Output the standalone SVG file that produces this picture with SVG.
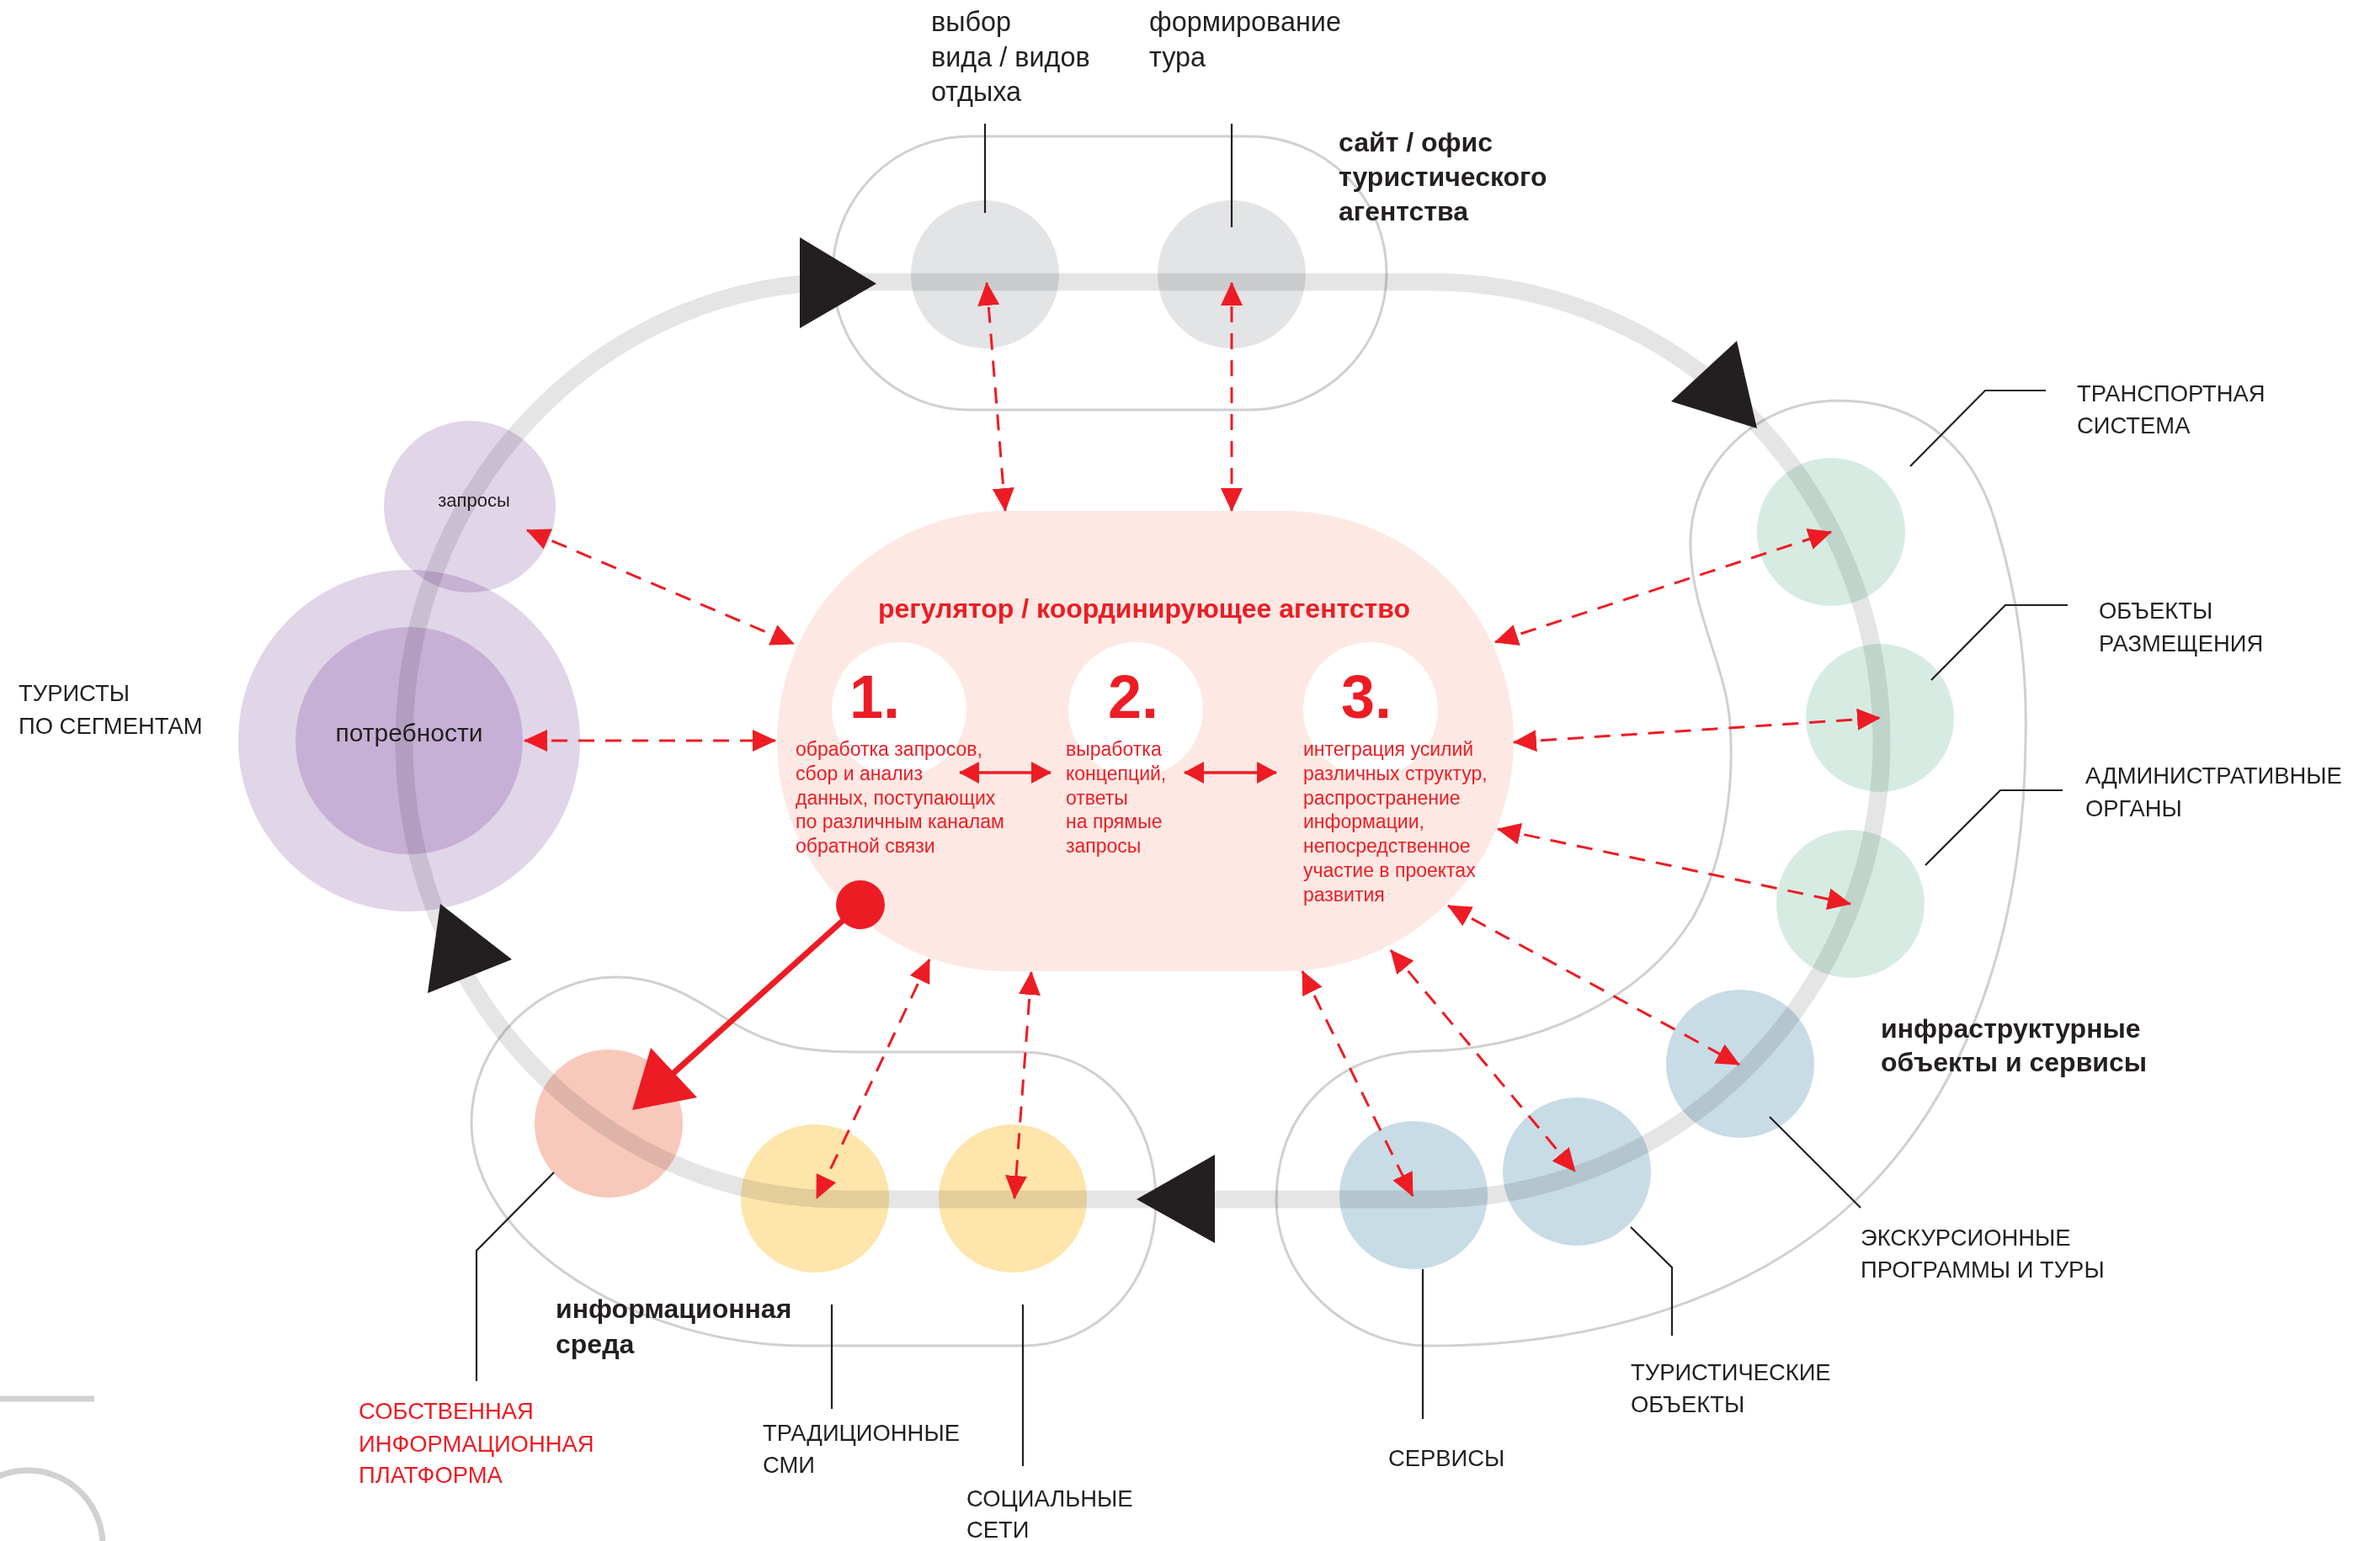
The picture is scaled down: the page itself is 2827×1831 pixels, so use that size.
<svg xmlns="http://www.w3.org/2000/svg" width="2827" height="1831" viewBox="0 0 2827 1831">
<defs>
<style>
text{font-family:"Liberation Sans",Arial,sans-serif;fill:#231f20}
.lbl{font-size:27.4px}
.sm{font-size:32.4px}
.b{font-size:32px;font-weight:bold}
.ttl{font-size:32px;font-weight:bold;fill:#ed1c24}
.red{fill:#ed1c24}
.body{font-size:23px;fill:#ed1c24}
.num{font-size:72px;font-weight:bold;fill:#ed1c24}
.outline{fill:none;stroke:#d0d0d0;stroke-width:3}
.lead{fill:none;stroke:#231f20;stroke-width:2.2}
.dash{fill:none;stroke:#ed1c24;stroke-width:3;stroke-dasharray:19 13;marker-start:url(#ah);marker-end:url(#ah)}
.solid{fill:none;stroke:#ed1c24;stroke-width:3.5;marker-start:url(#ah2);marker-end:url(#ah2)}
.tri{fill:#231f20}
.mul{mix-blend-mode:multiply}
</style>
<marker id="ah" markerUnits="userSpaceOnUse" markerWidth="28" markerHeight="26" viewBox="0 0 28 26" refX="27" refY="13" orient="auto-start-reverse"><path d="M0,0 L28,13 L0,26 z" fill="#ed1c24"/></marker>
<marker id="ah2" markerUnits="userSpaceOnUse" markerWidth="24" markerHeight="26" viewBox="0 0 24 26" refX="23" refY="13" orient="auto-start-reverse"><path d="M0,0 L24,13 L0,26 z" fill="#ed1c24"/></marker>
</defs>
<rect width="2827" height="1831" fill="#fff"/>

<g id="decor">
<line x1="0" y1="1662" x2="112" y2="1662" stroke="#d1d1d1" stroke-width="7"/>
<circle cx="33" cy="1836" r="89" fill="none" stroke="#d1d1d1" stroke-width="7"/>
</g>

<g id="outlines">
<rect class="outline" x="989" y="162" width="658" height="325" rx="162.5"/>
<path class="outline" d="M2184,476 C2270,476 2340,520 2370,620 C2400,720 2408,800 2406,880 C2404,1100 2340,1300 2200,1430 C2080,1540 1900,1600 1696,1599 C1600,1598 1516,1520 1516,1426 C1516,1320 1590,1250 1691,1249 C1820,1248 1950,1190 2011,1090 C2050,1020 2060,930 2055,860 C2050,790 2010,730 2008,650 C2005,560 2080,476 2184,476 Z"/>
<path class="outline" d="M732,1161 C790,1161 830,1190 870,1215 C920,1245 960,1250 1024,1250 L1215,1250 C1310,1250 1373,1330 1373,1426 C1373,1530 1300,1599 1215,1599 L957,1599 C760,1599 560,1480 560,1333 C560,1240 640,1161 732,1161 Z"/>
</g>

<g id="tourists">
<circle cx="486" cy="880" r="203" fill="#e1d5e8"/>
<circle cx="486" cy="880" r="135" fill="#c7b0d5"/>
<circle class="mul" cx="558" cy="602" r="102" fill="#e1d5e8"/>
<text x="563" y="602" font-size="22" text-anchor="middle">запросы</text>
<text x="486" y="881" font-size="30" text-anchor="middle">потребности</text>
<text class="lbl" x="22" y="833">ТУРИСТЫ</text>
<text class="lbl" x="22" y="872">ПО СЕГМЕНТАМ</text>
</g>

<g id="agency">
<circle cx="1170" cy="326" r="88" fill="#e3e4e6"/>
<circle cx="1463" cy="326" r="88" fill="#e3e4e6"/>
<text class="sm" x="1106" y="37">выбор</text>
<text class="sm" x="1106" y="79">вида / видов</text>
<text class="sm" x="1106" y="120">отдыха</text>
<text class="sm" x="1365" y="37">формирование</text>
<text class="sm" x="1365" y="79">тура</text>
<text class="b" x="1590" y="180">сайт / офис</text>
<text class="b" x="1590" y="221">туристического</text>
<text class="b" x="1590" y="262">агентства</text>
</g>

<g id="infra">
<circle cx="2175" cy="632" r="88" fill="#d6ece3"/>
<circle cx="2233" cy="853" r="88" fill="#d6ece3"/>
<circle cx="2198" cy="1074" r="88" fill="#d6ece3"/>
<circle cx="2067" cy="1264" r="88" fill="#c8dce5"/>
<circle cx="1873" cy="1392" r="88" fill="#c8dce5"/>
<circle cx="1679" cy="1420" r="88" fill="#c8dce5"/>
<text class="lbl" x="2467" y="477">ТРАНСПОРТНАЯ</text>
<text class="lbl" x="2467" y="515">СИСТЕМА</text>
<text class="lbl" x="2493" y="735">ОБЪЕКТЫ</text>
<text class="lbl" x="2493" y="774">РАЗМЕЩЕНИЯ</text>
<text class="lbl" x="2477" y="931">АДМИНИСТРАТИВНЫЕ</text>
<text class="lbl" x="2477" y="970">ОРГАНЫ</text>
<text class="b" x="2234" y="1233">инфраструктурные</text>
<text class="b" x="2234" y="1273">объекты и сервисы</text>
<text class="lbl" x="2210" y="1480">ЭКСКУРСИОННЫЕ</text>
<text class="lbl" x="2210" y="1518">ПРОГРАММЫ И ТУРЫ</text>
<text class="lbl" x="1937" y="1640">ТУРИСТИЧЕСКИЕ</text>
<text class="lbl" x="1937" y="1678">ОБЪЕКТЫ</text>
<text class="lbl" x="1649" y="1742">СЕРВИСЫ</text>
</g>

<g id="media">
<circle cx="723" cy="1335" r="88" fill="#f8c8bb"/>
<circle cx="968" cy="1424" r="88" fill="#fde5ab"/>
<circle cx="1203" cy="1424" r="88" fill="#fde5ab"/>
<text class="b" x="660" y="1566">информационная</text>
<text class="b" x="660" y="1608">среда</text>
<text class="lbl red" x="426" y="1686">СОБСТВЕННАЯ</text>
<text class="lbl red" x="426" y="1725">ИНФОРМАЦИОННАЯ</text>
<text class="lbl red" x="426" y="1762">ПЛАТФОРМА</text>
<text class="lbl" x="906" y="1712">ТРАДИЦИОННЫЕ</text>
<text class="lbl" x="906" y="1750">СМИ</text>
<text class="lbl" x="1148" y="1790">СОЦИАЛЬНЫЕ</text>
<text class="lbl" x="1148" y="1827">СЕТИ</text>
</g>

<g id="regulator">
<rect x="923" y="607" width="875" height="547" rx="273.5" fill="#fde8e3"/>
<circle cx="1068" cy="843" r="80" fill="#fff"/>
<circle cx="1349" cy="843" r="80" fill="#fff"/>
<circle cx="1628" cy="843" r="80" fill="#fff"/>
<text class="ttl" x="1359" y="734" text-anchor="middle">регулятор / координирующее агентство</text>
<text class="num" x="1009" y="853">1.</text>
<text class="num" x="1316" y="853">2.</text>
<text class="num" x="1593" y="853">3.</text>
<text class="body" x="945" y="898">обработка запросов,</text>
<text class="body" x="945" y="927">сбор и анализ</text>
<text class="body" x="945" y="956">данных, поступающих</text>
<text class="body" x="945" y="984">по различным каналам</text>
<text class="body" x="945" y="1013">обратной связи</text>
<text class="body" x="1266" y="898">выработка</text>
<text class="body" x="1266" y="927">концепций,</text>
<text class="body" x="1266" y="956">ответы</text>
<text class="body" x="1266" y="984">на прямые</text>
<text class="body" x="1266" y="1013">запросы</text>
<text class="body" x="1548" y="898">интеграция усилий</text>
<text class="body" x="1548" y="927">различных структур,</text>
<text class="body" x="1548" y="956">распространение</text>
<text class="body" x="1548" y="984">информации,</text>
<text class="body" x="1548" y="1013">непосредственное</text>
<text class="body" x="1548" y="1042">участие в проектах</text>
<text class="body" x="1548" y="1071">развития</text>
<circle cx="1022" cy="1075" r="29" fill="#ed1c24"/>
</g>

<g id="connectors">
<path d="M1000,335 L1700,335 A535,545 0 0 1 1700,1425 L1000,1425 A520,545 0 0 1 1000,335 Z" fill="none" stroke="#000" stroke-opacity="0.1" stroke-width="21"/>
<polygon class="tri" points="950,282 1041,337 950,390"/>
<polygon class="tri" points="2063,405 1985,477 2087,509"/>
<polygon class="tri" points="1350,1425 1443,1372 1443,1477"/>
<polygon class="tri" points="523,1074 608,1140 508,1180"/>
<polyline class="lead" points="2269,554 2358,464 2430,464"/>
<polyline class="lead" points="2294,808 2382,719 2456,719"/>
<polyline class="lead" points="2287,1028 2376,939 2450,939"/>
<polyline class="lead" points="2102,1327 2210,1435"/>
<polyline class="lead" points="1937,1458 1986,1506 1986,1587"/>
<polyline class="lead" points="1690,1508 1690,1686"/>
<polyline class="lead" points="1215,1550 1215,1742"/>
<polyline class="lead" points="988,1550 988,1674"/>
<polyline class="lead" points="658,1393 566,1486 566,1641"/>
<polyline class="lead" points="1170,147 1170,253"/>
<polyline class="lead" points="1463,147 1463,270"/>
<line class="dash" x1="626" y1="630" x2="943" y2="765"/>
<line class="dash" x1="623" y1="880" x2="921" y2="880"/>
<line class="dash" x1="1194" y1="607" x2="1172" y2="336"/>
<line class="dash" x1="1463" y1="607" x2="1463" y2="336"/>
<line class="dash" x1="1776" y1="763" x2="2175" y2="632"/>
<line class="dash" x1="1798" y1="882" x2="2233" y2="853"/>
<line class="dash" x1="1779" y1="985" x2="2198" y2="1074"/>
<line class="dash" x1="1720" y1="1076" x2="2066" y2="1265"/>
<line class="dash" x1="1652" y1="1129" x2="1871" y2="1392"/>
<line class="dash" x1="1547" y1="1154" x2="1678" y2="1421"/>
<line class="dash" x1="1104" y1="1140" x2="970" y2="1424"/>
<line class="dash" x1="1225" y1="1155" x2="1205" y2="1424"/>
<line class="solid" x1="1140" y1="918" x2="1248" y2="918"/>
<line class="solid" x1="1407" y1="918" x2="1516" y2="918"/>
<line x1="1022" y1="1075" x2="800" y2="1275" stroke="#ed1c24" stroke-width="7"/>
<polygon points="751,1319 773,1245 828,1304" fill="#ed1c24"/>
</g>
</svg>
